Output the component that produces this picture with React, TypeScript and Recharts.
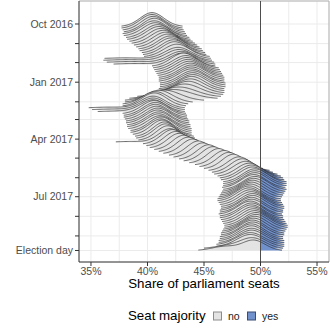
import React from "react";
import {
  ComposedChart,
  Area,
  XAxis,
  YAxis,
  CartesianGrid,
  ReferenceLine,
} from "recharts";

// ridge baselines, in days after 1 Oct 2016 (election day = 24 Sep 2017 = day 358)
const ridgeDays = [
  4, 7, 10, 13, 16, 19, 22, 25, 28, 31, 34, 37, 40, 43, 46, 49, 52, 55, 58, 61,
  64, 67, 70, 73, 76, 79, 82, 85, 88, 91, 94, 97, 100, 103, 106, 109, 112, 115,
  118, 121, 124, 127, 130, 133, 136, 139, 142, 145, 148, 151, 154, 157, 160,
  163, 166, 169, 172, 175, 178, 181, 184, 187, 190, 193, 196, 199, 202, 205,
  208, 211, 214, 217, 220, 223, 226, 229, 232, 235, 238, 241, 244, 247, 250,
  253, 256, 259, 262, 265, 268, 271, 274, 277, 280, 283, 286, 289, 292, 295,
  298, 301, 304, 307, 310, 313, 316, 319, 322, 325, 328, 331, 334, 337, 340,
  343, 346, 349, 352, 355, 358,
];

// centre of each ridge (% of seats)
const ridgeCentre = [
  40.4, 40.4, 40.5, 40.6, 40.6, 40.7, 40.9, 41.0, 41.2, 41.4,
  41.6, 41.8, 42.0, 42.1, 42.3, 42.4, 42.6, 42.7, 42.8, 43.0,
  43.1, 43.2, 43.4, 43.5, 43.6, 43.7, 43.8, 43.9, 43.9, 43.9,
  44.0, 44.0, 44.0, 43.9, 43.8, 43.6, 43.3, 42.8, 42.3, 41.5,
  41.0, 40.7, 40.6, 40.5, 40.5, 40.5, 40.6, 40.7, 40.7, 40.8,
  40.9, 40.9, 41.0, 41.0, 41.1, 41.2, 41.2, 41.3, 41.5, 41.6,
  41.8, 42.0, 42.2, 42.5, 42.8, 43.2, 43.6, 44.0, 44.5, 44.9,
  45.4, 45.8, 46.3, 46.8, 47.2, 47.6, 48.1, 48.4, 48.7, 49.0,
  49.2, 49.3, 49.5, 49.5, 49.5, 49.4, 49.5, 49.4, 49.3, 49.2,
  49.1, 49.0, 49.0, 49.1, 49.2, 49.3, 49.3, 49.2, 49.2, 49.1,
  49.2, 49.2, 49.3, 49.4, 49.5, 49.6, 49.6, 49.5, 49.4, 49.3,
  49.3, 49.2, 49.2, 49.2, 49.2, 49.1, 49.1, 49.3, 49.4,
];

// spread of each ridge (percentage points)
const ridgeSpread = [
  1.05, 1.05, 1.05, 1.05, 1.1, 1.1, 1.1, 1.1, 1.1, 1.1,
  1.1, 1.1, 1.1, 1.1, 1.1, 1.1, 1.15, 1.15, 1.15, 1.15,
  1.15, 1.1, 1.15, 1.15, 1.15, 1.15, 1.15, 1.15, 1.15, 1.15,
  1.15, 1.15, 1.15, 1.15, 1.2, 1.25, 1.35, 1.5, 1.6, 1.4,
  1.2, 1.15, 1.1, 1.1, 1.1, 1.1, 1.1, 1.1, 1.1, 1.1,
  1.1, 1.1, 1.1, 1.1, 1.1, 1.05, 1.05, 1.0, 1.0, 1.0,
  1.0, 1.0, 1.0, 1.0, 1.0, 1.0, 1.0, 1.0, 1.0, 1.0,
  1.0, 1.0, 1.0, 1.0, 1.0, 1.0, 1.05, 1.05, 1.1, 1.1,
  1.1, 1.1, 1.1, 1.1, 1.1, 1.1, 1.1, 1.1, 1.1, 1.1,
  1.1, 1.1, 1.1, 1.1, 1.1, 1.1, 1.1, 1.1, 1.1, 1.1,
  1.1, 1.1, 1.1, 1.1, 1.1, 1.1, 1.1, 1.1, 1.1, 1.1,
  1.1, 1.1, 1.1, 1.15, 1.15, 1.2, 1.2, 1.1, 1.0,
];

// small extra bumps: the long thin left tails on a few ridges
const tailDays = [55, 58, 61, 64, 133, 136, 139, 187, 355, 358];
const tailCentre = [38.0, 38.2, 38.5, 38.8, 36.6, 36.9, 37.3, 38.5, 47.0, 46.8];
const tailWeight = [0.1, 0.12, 0.12, 0.1, 0.1, 0.1, 0.09, 0.07, 0.2, 0.3];
const tailSpread = [1.5, 1.6, 1.6, 1.5, 1.4, 1.4, 1.4, 1.2, 1.1, 1.1];

const yTickDays = [0, 31, 61, 92, 123, 151, 182, 212, 243, 273, 304, 335, 358];
const yTickLabels = [
  "Oct 2016", "", "", "Jan 2017", "", "", "Apr 2017", "", "", "Jul 2017", "", "",
  "Election day",
];
const xTicks = [35, 40, 45, 50, 55];
const xGridLines = [35, 37.5, 40, 42.5, 45, 47.5, 50, 52.5, 55];

const X_DOMAIN: [number, number] = [33.94, 56.06];
const Y_DOMAIN: [number, number] = [-36.35, 376.2];
const MAJORITY = 50;
const HEIGHT_SCALE = 58; // days of ridge height per unit of density
const MIN_DENSITY = 0.012;

const NO_FILL = "#e3e3e3";
const YES_FILL = "#7191cd";
const LINE = "#262626";

// x positions where each ridge curve is evaluated
const shareGrid: number[] = [];
for (let k = 0; k <= 222; k++) shareGrid.push(Math.round((33.9 + k * 0.1) * 10) / 10);

const gauss = (x: number, m: number, s: number) =>
  Math.exp(-0.5 * ((x - m) / s) ** 2) / (s * Math.sqrt(2 * Math.PI));

type Pt = { x: number; v: number | null };

const ridges = ridgeDays.map((day, i) => {
  const t = tailDays.indexOf(day);
  const w = t >= 0 ? tailWeight[t] : 0;
  const dens = shareGrid.map((x) => {
    let d = (1 - w) * gauss(x, ridgeCentre[i], ridgeSpread[i]);
    if (t >= 0) d += w * gauss(x, tailCentre[t], tailSpread[t]);
    return { x, d };
  });
  const first = dens.findIndex((p) => p.d >= MIN_DENSITY);
  let last = dens.length - 1;
  while (last > 0 && dens[last].d < MIN_DENSITY) last--;
  const seg: Pt[] = dens.slice(first, last + 1).map((p) => ({
    x: p.x,
    v: p.d >= MIN_DENSITY ? day - HEIGHT_SCALE * p.d : null,
  }));
  const low = seg.filter((p) => p.x <= MAJORITY);
  const high = seg.filter((p) => p.x >= MAJORITY);
  return {
    day,
    low: low.some((p) => p.v !== null) ? low : null,
    high: high.some((p) => p.v !== null) ? high : null,
  };
});

const YTick = (props: any) => {
  const { x, y, payload } = props;
  return (
    <text x={x} y={y} dy="0.355em" textAnchor="end" fontSize={10.5} fill="#4d4d4d">
      {yTickLabels[yTickDays.indexOf(payload.value)] ?? ""}
    </text>
  );
};

function Legend() {
  return (
    <svg
      width={330}
      height={35}
      style={{ position: "absolute", left: 0, top: 295 }}
    >
      <text x={128} y={24.5} fontSize={13.3} fill="#000">
        Seat majority
      </text>
      <rect x={213.5} y={17} width={8} height={8} fill={NO_FILL} stroke="#8c8c8c" />
      <text x={228} y={24.5} fontSize={10.5} fill="#1a1a1a">
        no
      </text>
      <rect x={247.5} y={17} width={8} height={8} fill={YES_FILL} stroke="#3b4d72" />
      <text x={262} y={24.5} fontSize={10.5} fill="#1a1a1a">
        yes
      </text>
    </svg>
  );
}

export default function App() {
  return (
    <div
      style={{
        position: "absolute",
        left: 0,
        top: 0,
        width: 330,
        height: 330,
        background: "#fff",
        fontFamily: '"Liberation Sans", Arial, sans-serif',
      }}
    >
      <ComposedChart
        width={330}
        height={330}
        margin={{ top: 1, right: 1, bottom: 0, left: 0 }}
      >
        <CartesianGrid xAxisId="grid" stroke="#ebebeb" />
        <XAxis
          xAxisId="grid"
          dataKey="x"
          type="number"
          domain={X_DOMAIN}
          allowDataOverflow
          ticks={xGridLines}
          hide
        />
        <XAxis
          dataKey="x"
          type="number"
          domain={X_DOMAIN}
          allowDataOverflow
          ticks={xTicks}
          interval={0}
          tickFormatter={(v) => `${v}%`}
          height={68}
          tickSize={4}
          tickMargin={2}
          stroke="#333"
          tick={{ fill: "#4d4d4d", fontSize: 10.5 }}
          label={{
            value: "Share of parliament seats",
            position: "insideBottom",
            offset: 42,
            fill: "#000",
            fontSize: 13.3,
          }}
        />
        <YAxis
          type="number"
          reversed
          domain={Y_DOMAIN}
          allowDataOverflow
          ticks={yTickDays}
          interval={0}
          width={79}
          tickSize={4}
          tickMargin={2}
          stroke="#333"
          tick={<YTick />}
        />
        {ridges.flatMap((r) => {
          const out = [];
          if (r.low)
            out.push(
              <Area
                key={`no-${r.day}`}
                data={r.low}
                dataKey="v"
                type="linear"
                baseValue={r.day}
                fill={NO_FILL}
                fillOpacity={1}
                stroke={LINE}
                strokeWidth={0.65}
                dot={false}
                activeDot={false}
                isAnimationActive={false}
              />
            );
          if (r.high)
            out.push(
              <Area
                key={`yes-${r.day}`}
                data={r.high}
                dataKey="v"
                type="linear"
                baseValue={r.day}
                fill={YES_FILL}
                fillOpacity={1}
                stroke={LINE}
                strokeWidth={0.65}
                dot={false}
                activeDot={false}
                isAnimationActive={false}
              />
            );
          return out;
        })}
        <ReferenceLine y={Y_DOMAIN[0]} stroke="#b3b3b3" ifOverflow="visible" />
        <ReferenceLine x={X_DOMAIN[1]} stroke="#b3b3b3" ifOverflow="visible" />
        <ReferenceLine x={MAJORITY} stroke="#4d4d4d" strokeWidth={1} />
      </ComposedChart>
      <Legend />
    </div>
  );
}
